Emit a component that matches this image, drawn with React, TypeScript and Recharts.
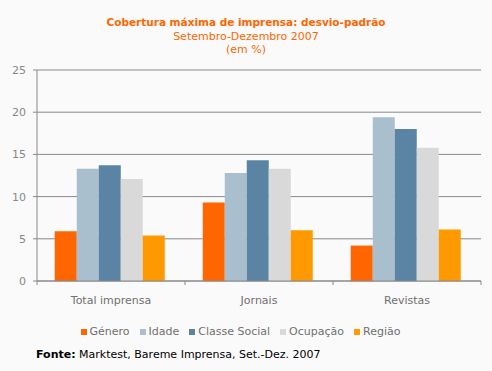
import React from 'react';
import { BarChart, Bar, XAxis, YAxis, CartesianGrid, Legend } from 'recharts';

const categories = ['Total imprensa', 'Jornais', 'Revistas'];
const seriesNames = ['Género', 'Idade', 'Classe Social', 'Ocupação', 'Região'];
const genero = [5.9, 9.3, 4.2];
const idade = [13.3, 12.8, 19.4];
const classeSocial = [13.7, 14.3, 18.0];
const ocupacao = [12.1, 13.3, 15.8];
const regiao = [5.4, 6.0, 6.1];
const yTicks = [0, 5, 10, 15, 20, 25];

const colors = ['#ff6600', '#aabfce', '#5b83a3', '#d9d9d9', '#ff9900'];
const seriesValues = [genero, idade, classeSocial, ocupacao, regiao];

const data = categories.map((name, i) => {
  const row: Record<string, string | number> = { name };
  seriesNames.forEach((s, j) => {
    row[s] = seriesValues[j][i];
  });
  return row;
});

const font = '"DejaVu Sans", Verdana, sans-serif';
const gray = '#888888';

// category ticks sit between groups, label in the middle
const CategoryTick = (props: any) => {
  const { x, y, payload, index } = props;
  const half = 444 / categories.length / 2;
  return (
    <g>
      <line x1={x - half} x2={x - half} y1={y - 8} y2={y - 4} stroke={gray} />
      {index === categories.length - 1 && (
        <line x1={x + half} x2={x + half} y1={y - 8} y2={y - 4} stroke={gray} />
      )}
      <text x={x} y={y + 15} textAnchor="middle" fill="#707070" fontSize={11} fontFamily={font}>
        {payload.value}
      </text>
    </g>
  );
};

const LegendContent = () => (
  <div style={{ display: 'flex', justifyContent: 'center', fontFamily: font, fontSize: 11, color: '#707070', lineHeight: '13px' }}>
    {seriesNames.map((s, i) => (
      <span key={s} style={{ display: 'flex', alignItems: 'center', marginRight: i < seriesNames.length - 1 ? 10 : 0 }}>
        <span style={{ width: 6, height: 6, background: colors[i], marginRight: 3, display: 'inline-block' }} />
        {s}
      </span>
    ))}
  </div>
);

export default function App() {
  return (
    <div style={{ position: 'relative', width: 492, height: 371, background: '#fafafa', fontFamily: font }}>
      <style>{'body{margin:0}'}</style>
      <div style={{ position: 'absolute', top: 16, width: 492, textAlign: 'center', color: '#ff6600', lineHeight: '13.5px' }}>
        <div style={{ fontWeight: 'bold', fontSize: 10.5 }}>Cobertura máxima de imprensa: desvio-padrão</div>
        <div style={{ fontSize: 11 }}>Setembro-Dezembro 2007</div>
        <div style={{ fontSize: 11 }}>(em %)</div>
      </div>
      <BarChart
        width={492}
        height={371}
        data={data}
        margin={{ top: 70, right: 11, left: 0, bottom: 47 }}
        barGap={0}
        barCategoryGap="12%"
      >
        <CartesianGrid vertical={false} stroke={gray} />
        <XAxis
          dataKey="name"
          tickLine={false}
          axisLine={{ stroke: gray }}
          tick={<CategoryTick />}
          height={30}
          interval={0}
        />
        <YAxis
          domain={[0, 25]}
          ticks={yTicks}
          width={37}
          axisLine={{ stroke: gray }}
          tickLine={{ stroke: gray }}
          tickSize={4}
          tickMargin={7}
          tick={{ fill: gray, fontSize: 11, fontFamily: font }}
        />
        <Legend content={<LegendContent />} wrapperStyle={{ top: 325 }} />
        {seriesNames.map((s, i) => (
          <Bar key={s} dataKey={s} fill={colors[i]} isAnimationActive={false} />
        ))}
      </BarChart>
      <div style={{ position: 'absolute', top: 348, left: 36, fontSize: 11, color: '#000' }}>
        <b>Fonte:</b> Marktest, Bareme Imprensa, Set.-Dez. 2007
      </div>
    </div>
  );
}
